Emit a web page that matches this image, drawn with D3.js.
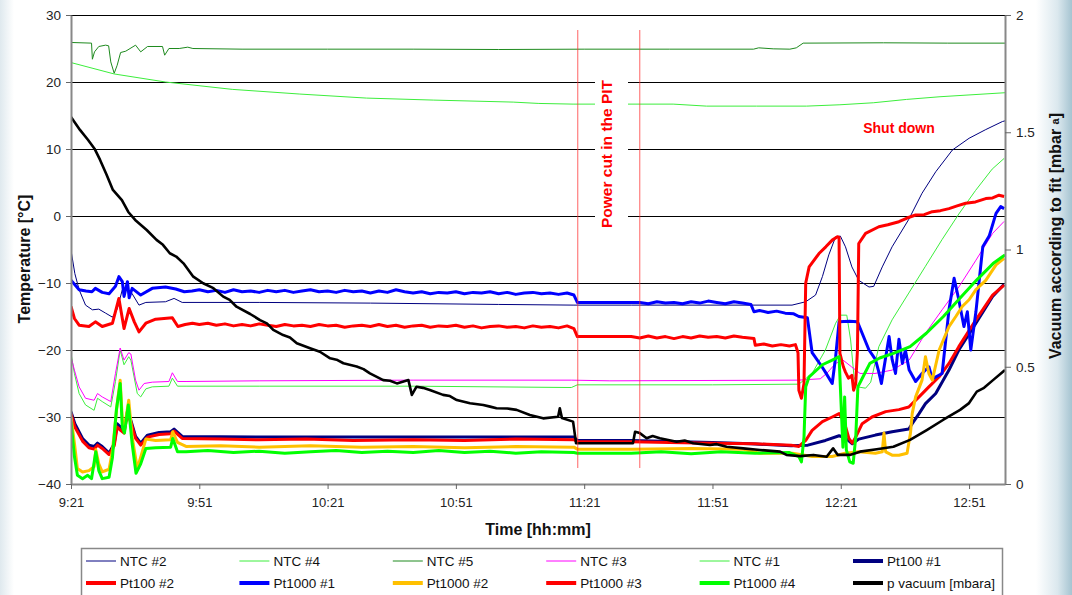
<!DOCTYPE html>
<html><head><meta charset="utf-8">
<script src="https://cdn.jsdelivr.net/npm/d3@7"></script>
<style>body{margin:0;background:#fff}svg{display:block;font-family:Arial,"Liberation Sans",sans-serif}</style>
</head><body><svg id="c" width="1072" height="595"></svg>
<script>
// ---- data (time in minutes after 9:21) ----
const xTickMinutes = [0,30,60,90,120,150,180,210];
const xTickLabels = ["9:21","9:51","10:21","10:51","11:21","11:51","12:21","12:51"];
const tempTicks = [-40,-30,-20,-10,0,10,20,30];
const vacTicks = [0,0.5,1,1.5,2];
const vacTickLabels = ["0","0.5","1","1.5","2"];
const powerCut = [118.5, 133];

const ntc2 = [[0,-5.1],[0.9,-8.6],[1.9,-11],[3.4,-13.3],[5,-14],[6.5,-13.9],[8.1,-14.5],[9.7,-15.1],[10.8,-13.9],[12,-11],[13.2,-10.8],[14.3,-11.6],[15.9,-13.3],[17.5,-12.9],[22.1,-12.8],[24.1,-12.3],[26,-12.9],[44,-12.9],[70,-13.0],[100,-13.2],[117.6,-13.3],[131,-13.3],[168.6,-13.3],[171.8,-12.8],[174.1,-11.8],[175.7,-9.05],[177.2,-5.8],[178.8,-3.1],[179.9,-3.0],[181.1,-4.6],[182.6,-7.6],[184.2,-9.6],[186.6,-10.6],[187.7,-10.5],[189.7,-7.6],[192,-4.6],[195.9,-0.5],[199,3.4],[202.2,6.6],[206.1,9.85],[210,11.6],[213.9,12.9],[217.8,14.1],[218.4,14.2]];
const ntc4 = [[0,-20.5],[0.8,-23.5],[1.9,-26.5],[3.4,-28.2],[5.4,-29],[6.2,-27.2],[7.3,-27.7],[9.3,-28.5],[10.4,-24.7],[11.5,-20],[12.4,-22.2],[13.5,-21],[14,-21.5],[15.5,-26.5],[16.3,-27],[17.5,-25.8],[19,-25.5],[22.9,-25.4],[23.7,-24.2],[24.9,-25.4],[26.9,-25.4],[44,-25.4],[80,-25.4],[117,-25.6],[118.4,-25.2],[150,-25.2],[170.2,-25.1],[173.3,-23.5],[176.4,-20],[178.8,-16],[179.9,-14.8],[181.4,-14.8],[182.3,-18.5],[183.1,-24],[183.9,-25.5],[185.8,-25.7],[187,-24.8],[188.9,-19.5],[192,-15.5],[195.9,-11.5],[199.8,-7.5],[203.7,-3.5],[207.6,0.3],[211.5,3.8],[215.4,7],[218.2,8.6]];
const ntc5 = [[0,25.9],[4.8,25.8],[5,23.4],[5.5,24.5],[6.5,25.3],[8.1,25.5],[8.8,25.4],[9.3,23],[10.1,21.3],[10.8,22.5],[11.6,24.4],[12.8,24.6],[15.1,25.5],[16.3,24.5],[17.9,25.3],[21.4,25.3],[21.9,24.0],[22.9,25.0],[25.3,25.0],[27.3,25.2],[28.5,25.0],[40,24.9],[60,24.9],[80,24.9],[100,24.85],[120,24.9],[140,24.9],[159.6,24.9],[160.8,25.1],[164.2,24.95],[168.1,24.9],[169.6,25.1],[171.2,25.8],[190,25.85],[205,25.8],[218.4,25.8]];
const ntc3 = [[0,-21],[0.8,-23],[1.9,-25.5],[3.4,-27.2],[5.4,-27.5],[6.2,-26.5],[7.3,-27],[9.3,-27.7],[10.4,-23.5],[11.5,-19.7],[12.4,-21.5],[13.5,-20.4],[14,-20.6],[15.1,-24.5],[15.9,-26],[17.1,-25],[19,-24.8],[22.9,-24.7],[23.7,-23.4],[24.9,-24.7],[26.9,-24.7],[44,-24.6],[80,-24.5],[117,-24.5],[126,-24.6],[170,-24.5],[175.2,-24.3],[176.7,-23.5],[178.8,-22],[180.5,-21.5],[182.5,-22.5],[184.5,-23.5],[188,-23.5],[192,-23],[196,-21.5],[199.8,-17.5],[203.7,-14],[207.6,-10.6],[211.6,-6.6],[215.5,-2.6],[218.2,-0.8]];
const ntc1 = [[0,22.9],[10.1,21.2],[22.1,20.0],[37.7,18.9],[53.5,18.2],[69.1,17.6],[84.7,17.3],[103.4,17.0],[109.4,16.8],[117.4,16.7],[130.2,16.7],[140.8,16.7],[148.6,16.4],[160.3,16.4],[172,16.4],[179.8,16.6],[187.6,16.9],[195.4,17.4],[203.2,17.8],[218.4,18.4]];
const pt100_1 = [[0,-29.2],[0.9,-31],[2.7,-33.2],[4.2,-34.2],[5.4,-34.4],[6.2,-33.9],[7.3,-34.4],[8.9,-35.4],[10.1,-34],[10.8,-31],[11.6,-31.5],[12.4,-32],[13.2,-29.2],[14,-30.5],[15.1,-32.9],[16.3,-33.9],[17.9,-32.7],[20.6,-32.3],[23.3,-32.2],[24.1,-31.8],[26,-32.9],[44,-33.0],[80,-33.0],[117.6,-33.0],[118.4,-33.5],[131,-33.5],[150,-33.8],[159,-34.0],[168.4,-34.3],[172.3,-34.2],[176.4,-33.5],[179.6,-32.8],[181.1,-33.1],[182.7,-34.0],[184.2,-33.3],[188.1,-32.7],[192,-32.2],[195.9,-31.8],[196.7,-31],[198.3,-29.5],[199.8,-28],[202.2,-26.5],[205.3,-23],[207.6,-20],[211.6,-16],[215.5,-12],[218.2,-10.2]];
const pt100_2 = [[0,-29.5],[0.9,-31.5],[2.7,-33.6],[4.2,-34.6],[5.4,-34.8],[6.2,-34.2],[7.3,-34.7],[8.9,-35.6],[10.1,-34.3],[10.8,-31.5],[11.6,-32],[12.4,-32.4],[13.2,-29.5],[14,-30.8],[15.1,-33.2],[16.3,-34.2],[17.9,-33],[20.6,-32.6],[23.3,-32.5],[24.1,-32.1],[26,-33.2],[35,-33.3],[44,-33.4],[55,-33.3],[66,-33.5],[80,-33.4],[92,-33.5],[104,-33.3],[117.6,-33.4],[118.4,-33.7],[131,-33.7],[140,-33.8],[150,-33.9],[160,-34.0],[168.4,-34.2],[170.2,-34.4],[171.8,-33.5],[173.3,-32],[175.7,-30.7],[178,-30],[179.6,-29.5],[180.7,-30.5],[181.9,-33.2],[182.7,-33.9],[183.5,-33],[185,-31],[187.3,-30],[190.5,-29.2],[193.6,-28.9],[195.9,-28.5],[198.3,-27],[200.6,-25.5],[203,-24],[205.3,-22],[207.6,-19.5],[211.6,-15.5],[215.5,-11.8],[218.2,-10.3]];
const pt1000_1 = [[0,-9.6],[1.9,-11],[3.5,-11.2],[4.9,-11.3],[5.7,-10.8],[7.3,-11.4],[8.9,-11.6],[10.4,-10.5],[11.2,-9.05],[12,-9.8],[12.4,-12.0],[13.2,-9.8],[13.6,-12.2],[14.3,-10.8],[16.3,-11.8],[19,-10.8],[22.1,-10.6],[24.5,-10.9],[26.5,-11.3],[28.3,-11.2],[30,-11.0],[32,-11.3],[34,-11.1],[36,-11.4],[38,-11.0],[40,-11.3],[42,-11.2],[44,-11.4],[46,-11.1],[48,-11.3],[50,-11.1],[52,-11.4],[54,-11.2],[56,-11.0],[58,-11.3],[60,-11.2],[62,-11.4],[64,-11.1],[66,-11.3],[68,-11.2],[70,-11.5],[72,-11.2],[74,-11.4],[76,-11.0],[78,-11.3],[80,-11.5],[82,-11.3],[84,-11.6],[86,-11.4],[88,-11.5],[90,-11.3],[92,-11.6],[94,-11.4],[96,-11.5],[98,-11.3],[100,-11.6],[102,-11.4],[104,-11.7],[106,-11.5],[108,-11.4],[110,-11.6],[112,-11.5],[114,-11.7],[116,-11.5],[117.6,-11.8],[118.4,-12.9],[131,-12.9],[133,-12.9],[135,-13.1],[137,-12.8],[139,-13.0],[141,-12.9],[143,-13.1],[145,-12.8],[147,-13.0],[149,-12.7],[151,-12.9],[153,-13.1],[155,-12.8],[157,-13.0],[159,-13.2],[159.7,-14.3],[161,-14.1],[163,-14.4],[165,-14.2],[167,-14.5],[169,-14.6],[170.2,-15.0],[172.2,-15.2],[173.3,-20.4],[175.6,-22.5],[176.4,-23.3],[178,-25],[178.8,-21],[179.6,-15.8],[182,-15.7],[183.9,-15.8],[185,-17.5],[186.6,-20],[188.1,-21.4],[188.9,-23.3],[189.5,-25],[191.3,-18],[192,-21.4],[192.8,-23.5],[193.6,-18.4],[194.4,-22],[195.1,-20],[196,-23],[197.5,-24.7],[199,-23.5],[200.6,-22.5],[201.4,-24.3],[203.7,-23.5],[205.3,-14],[206.5,-9.3],[207.5,-12.2],[208.8,-16.5],[209.6,-14.3],[210.4,-20],[211.6,-14.3],[213.2,-4.6],[214.7,-3.0],[216.3,0.4],[217.4,1.4],[218.2,1.1]];
const pt1000_2 = [[0,-30],[0.8,-33.9],[1.5,-37.7],[2.7,-38.2],[4.2,-38],[5.4,-37.4],[5.8,-34.9],[6.5,-37],[7.3,-38.2],[8.9,-37.8],[9.7,-35],[10.8,-28],[11.5,-24.5],[12,-30.4],[12.6,-31.2],[13.5,-27.5],[14.3,-33],[15.5,-37.7],[16.3,-36],[17.5,-33.3],[19.8,-33.5],[23.3,-33.4],[23.8,-32.2],[24.9,-33.8],[26.9,-34.4],[35,-34.3],[44,-34.5],[56,-34.3],[68,-34.5],[80,-34.4],[92,-34.6],[104,-34.4],[117.6,-34.5],[118.4,-34.8],[131,-34.8],[145,-34.7],[157,-34.8],[161,-35.4],[168.7,-35.4],[173.3,-35.9],[178,-35.9],[181,-35.4],[184.2,-35.2],[188.1,-35.4],[189.7,-35.2],[190.1,-32.4],[190.5,-35.2],[192,-35.7],[193.6,-35.7],[195.5,-35.4],[196.3,-32.4],[196.7,-29.5],[197.5,-27],[199,-24.5],[199.8,-21],[200.6,-23.5],[201.4,-24.5],[203,-20],[205.3,-16.5],[206.9,-15],[208.4,-13.5],[210,-12.5],[211.6,-11],[213.9,-9.6],[216.3,-7.3],[218.2,-6.3]];
const pt1000_3 = [[0,-13.5],[0.8,-15.3],[1.9,-16.3],[4.2,-16.5],[5.7,-15.8],[7.3,-16.5],[9.7,-16],[11.2,-12.3],[12.4,-16.8],[13.6,-13.8],[14.8,-15.8],[15.9,-17.3],[17.5,-16],[19.8,-15.4],[23.7,-15.2],[25,-16.5],[26.7,-16.2],[28.4,-16],[30,-16.2],[32,-16.0],[34,-16.3],[36,-16.1],[38,-16.4],[40,-16.2],[42,-16.4],[44,-16.1],[46,-16.3],[48,-16.5],[50,-16.2],[52,-16.4],[54,-16.3],[56,-16.5],[58,-16.2],[60,-16.4],[62,-16.3],[64,-16.6],[66,-16.4],[68,-16.3],[70,-16.5],[72,-16.2],[74,-16.5],[76,-16.3],[78,-16.6],[80,-16.4],[82,-16.3],[84,-16.6],[86,-16.4],[88,-16.5],[90,-16.3],[92,-16.6],[94,-16.4],[96,-16.7],[98,-16.5],[100,-16.4],[102,-16.6],[104,-16.5],[106,-16.7],[108,-16.4],[110,-16.6],[112,-16.5],[114,-16.7],[116,-16.4],[117.6,-16.8],[118.4,-18.0],[131,-18.0],[133,-18.2],[135,-17.9],[137,-18.2],[139,-18.0],[141,-18.3],[143,-18.0],[145,-18.2],[147,-17.9],[149,-18.1],[151,-18.0],[153,-18.2],[155,-17.9],[157,-18.1],[159.7,-18.3],[160,-19.3],[162,-19.1],[164,-19.4],[166,-19.2],[168,-19.4],[169.4,-19.2],[170,-20.4],[170.2,-26],[170.8,-27.2],[171.4,-25],[171.8,-10.0],[172.6,-7.6],[174.9,-5.6],[176.5,-4.6],[178,-3.6],[179.2,-3.1],[179.6,-3.2],[179.8,-20.5],[180.6,-22.5],[181.1,-23.3],[181.8,-24.2],[182.6,-23.8],[183,-26],[183.5,-25],[183.9,-20],[184.2,-4.1],[185.8,-2.6],[188.9,-1.6],[191,-1.3],[193.6,-0.85],[195.5,-0.3],[197.5,0.15],[199.5,0.2],[201.4,0.64],[203.3,0.8],[205.3,1.1],[207.2,1.5],[209.2,1.9],[211.5,2.1],[213.9,2.6],[215.5,2.7],[217,3.1],[218.2,2.9]];
const pt1000_4 = [[0,-30.7],[0.8,-35.9],[1.5,-38.7],[2.7,-39.2],[3.9,-38.7],[4.8,-39.2],[5.8,-35.2],[6.5,-38],[7.3,-39.2],[8.9,-39],[9.7,-36],[10.6,-29],[11.5,-25],[12,-31.5],[12.5,-32.4],[13.4,-28.2],[14.3,-34],[15.2,-38.4],[16.3,-37],[17.5,-34.7],[19.8,-34.6],[23.3,-34.5],[23.8,-33.2],[24.9,-35.2],[26.9,-35.2],[32,-35.0],[38,-35.3],[44,-35.1],[50,-35.4],[56,-35.2],[62,-35.0],[68,-35.3],[74,-35.1],[80,-35.3],[86,-35.0],[92,-35.3],[98,-35.1],[104,-35.4],[110,-35.2],[117.6,-35.3],[118.4,-35.4],[131,-35.4],[138,-35.2],[145,-35.5],[152,-35.2],[160,-35.4],[168,-35.3],[170.2,-35.9],[170.8,-36.7],[171.4,-33],[171.8,-25.5],[172.6,-24],[175.7,-22.2],[178,-21.5],[179.6,-21],[179.9,-25.5],[180.5,-34.5],[180.9,-27],[181.3,-34.9],[182.1,-36.7],[182.9,-36.9],[183.5,-33],[184,-25.5],[185.2,-24],[186.8,-22],[189.1,-21.2],[192.3,-20.5],[196.2,-19.5],[200,-17.5],[204,-15],[207.8,-12.3],[211.7,-9.6],[215.6,-7.1],[218.4,-5.8]];
const pVacuum = [[0,1.565],[2.1,1.51],[4.0,1.467],[5.5,1.43],[6.8,1.382],[8.3,1.32],[9.8,1.254],[11.9,1.211],[13.4,1.16],[15.0,1.126],[17.7,1.083],[20.0,1.041],[21.5,1.02],[23.1,0.984],[24.6,0.97],[26.3,0.941],[28.6,0.884],[30.9,0.856],[33.3,0.835],[35.6,0.799],[37.1,0.785],[38.7,0.756],[41.9,0.725],[44.2,0.699],[45.8,0.685],[47.3,0.657],[49.6,0.635],[51.2,0.625],[52.8,0.6],[55.9,0.579],[58.2,0.564],[60.6,0.536],[62.1,0.53],[63.7,0.515],[66.8,0.501],[68.4,0.49],[69.9,0.472],[73.0,0.443],[74.6,0.44],[76.2,0.429],[78.9,0.443],[79.7,0.38],[80.8,0.415],[82.3,0.41],[83.9,0.401],[87.0,0.38],[88.6,0.375],[90.2,0.358],[93.3,0.344],[96.4,0.337],[98.0,0.33],[99.5,0.323],[102.0,0.322],[104.2,0.316],[107.3,0.294],[110.4,0.28],[113.9,0.287],[114.3,0.323],[114.8,0.281],[117.4,0.266],[118.1,0.174],[131.4,0.174],[131.9,0.223],[133.0,0.217],[134.6,0.195],[136.0,0.205],[137.7,0.195],[141.6,0.18],[143.5,0.185],[145.5,0.174],[149.4,0.166],[151.0,0.17],[153.3,0.159],[157.2,0.152],[161.1,0.145],[165.8,0.138],[167.3,0.124],[170.5,0.119],[173.6,0.124],[176.7,0.116],[178.2,0.152],[179.3,0.124],[182.1,0.124],[184.5,0.138],[188.4,0.148],[192.3,0.159],[196.2,0.188],[200.1,0.23],[203.9,0.273],[207.9,0.316],[210.0,0.345],[211.8,0.394],[213.5,0.41],[215.6,0.443],[218.4,0.486]];

const seriesList = [
  {name:"NTC #2", data:ntc2, color:"#000080", w:1},
  {name:"NTC #4", data:ntc4, color:"#3cee3c", w:1},
  {name:"NTC #5", data:ntc5, color:"#1e8a1e", w:1},
  {name:"NTC #3", data:ntc3, color:"#ff00ff", w:1},
  {name:"NTC #1", data:ntc1, color:"#3cee3c", w:1},
  {name:"Pt100 #1", data:pt100_1, color:"#000080", w:3},
  {name:"Pt100 #2", data:pt100_2, color:"#ff0000", w:3},
  {name:"Pt1000 #1", data:pt1000_1, color:"#0000ff", w:3},
  {name:"Pt1000 #2", data:pt1000_2, color:"#ffc000", w:3},
  {name:"Pt1000 #3", data:pt1000_3, color:"#ff0000", w:3},
  {name:"Pt1000 #4", data:pt1000_4, color:"#00ff00", w:3},
  {name:"p vacuum [mbara]", data:pVacuum, color:"#000000", w:2.6, right:true}
];

// ---- layout ----
const L=71, R=1005, T=15, B=484;
const svg = d3.select("#c");
const defs = svg.append("defs");
const gr = defs.append("linearGradient").attr("id","gR").attr("x1","0").attr("x2","1");
gr.append("stop").attr("offset","0").attr("stop-color","#ffffff");
gr.append("stop").attr("offset","0.6").attr("stop-color","#dbe8ee");
gr.append("stop").attr("offset","1").attr("stop-color","#a6c4d1");
const gl = defs.append("linearGradient").attr("id","gL").attr("x1","0").attr("x2","1");
gl.append("stop").attr("offset","0").attr("stop-color","#dfe9ee");
gl.append("stop").attr("offset","1").attr("stop-color","#ffffff");
defs.append("clipPath").attr("id","plot").append("rect").attr("x",L).attr("y",T-2).attr("width",R-L).attr("height",B-T+4);

svg.append("rect").attr("width",1072).attr("height",595).attr("fill","#fff");
svg.append("rect").attr("x",0).attr("y",0).attr("width",14).attr("height",595).attr("fill","url(#gL)");
svg.append("rect").attr("x",1036).attr("y",0).attr("width",36).attr("height",595).attr("fill","url(#gR)");

const x = d3.scaleLinear().domain([0,218.4]).range([L,R]);
const yT = d3.scaleLinear().domain([-40,30]).range([B,T]);
const yV = d3.scaleLinear().domain([0,2]).range([B,T]);

// gridlines
svg.append("g").selectAll("line").data(tempTicks.filter(d=>d>-40)).join("line")
  .attr("x1",L).attr("x2",R).attr("y1",d=>Math.round(yT(d))+0.5).attr("y2",d=>Math.round(yT(d))+0.5)
  .attr("stroke","#000").attr("stroke-width",1);

// series
const gS = svg.append("g").attr("clip-path","url(#plot)");
seriesList.forEach(s=>{
  const yy = s.right? yV : yT;
  const line = d3.line().x(d=>x(d[0])).y(d=>yy(d[1]));
  gS.append("path").attr("d",line(s.data)).attr("fill","none")
    .attr("stroke",s.color).attr("stroke-width",s.w).attr("stroke-linejoin","round");
});

// power cut lines
svg.append("g").selectAll("line").data(powerCut).join("line")
  .attr("x1",d=>x(d)).attr("x2",d=>x(d)).attr("y1",30).attr("y2",468)
  .attr("stroke","#ff3030").attr("stroke-opacity",0.75).attr("stroke-width",1);
svg.append("rect").attr("x",595).attr("y",76).attr("width",33).attr("height",156).attr("fill","#fff");
svg.append("text").attr("transform","translate(612,154) rotate(-90)").attr("text-anchor","middle")
  .attr("font-size",15.5).attr("font-weight","bold").attr("fill","#ff0000").text("Power cut in the PIT");
svg.append("text").attr("x",899).attr("y",133).attr("text-anchor","middle")
  .attr("font-size",14).attr("font-weight","bold").attr("fill","#ff0000").text("Shut down");

// axes
const axStyle = g=>{ g.selectAll(".domain").attr("stroke","#888").attr("stroke-width",2);
  g.selectAll(".tick line").attr("stroke","#666");
  g.selectAll("text").attr("fill","#222").attr("font-size",13.5).attr("font-family","Arial, 'Liberation Sans', sans-serif"); };
svg.append("g").attr("transform",`translate(${L},0)`)
  .call(d3.axisLeft(yT).tickValues(tempTicks).tickSize(5).tickSizeOuter(0).tickPadding(5)).call(axStyle);
svg.append("g").attr("transform",`translate(${R},0)`)
  .call(d3.axisRight(yV).tickValues(vacTicks).tickFormat((d,i)=>vacTickLabels[i]).tickSize(6).tickSizeOuter(0).tickPadding(5)).call(axStyle);
const xa = svg.append("g").attr("transform",`translate(0,${B})`)
  .call(d3.axisBottom(x).tickValues(xTickMinutes).tickFormat((d,i)=>xTickLabels[i]).tickSize(5).tickSizeOuter(0).tickPadding(9)).call(axStyle);
xa.selectAll("text").attr("font-size",13);

// axis titles
svg.append("text").attr("transform","translate(30,259) rotate(-90)").attr("text-anchor","middle")
  .attr("font-size",16).attr("font-weight","bold").attr("fill","#111").text("Temperature [°C]");
const rt = svg.append("text").attr("transform","translate(1061,236) rotate(-90)").attr("text-anchor","middle")
  .attr("font-size",16).attr("font-weight","bold").attr("fill","#111");
rt.append("tspan").text("Vacuum according to fit [mbar ");
rt.append("tspan").attr("font-size",11).attr("dy",-2).text("a");
rt.append("tspan").attr("dy",2).text("]");
svg.append("text").attr("x",538).attr("y",535).attr("text-anchor","middle")
  .attr("font-size",16).attr("font-weight","bold").attr("fill","#111").text("Time [hh:mm]");

// legend
svg.append("rect").attr("x",81.5).attr("y",548.5).attr("width",921).attr("height",60)
  .attr("fill","#fff").attr("stroke","#888").attr("stroke-width",1.5);
const lg = svg.append("g").selectAll("g").data(seriesList).join("g")
  .attr("transform",(d,i)=>`translate(${86+(i%6)*153.4},${i<6?561:583})`);
lg.append("line").attr("x1",0).attr("x2",30).attr("y1",0).attr("y2",0)
  .attr("stroke",d=>d.color).attr("stroke-width",d=>d.w>1?4:1);
lg.append("text").attr("x",34).attr("y",5).attr("font-size",13.5).attr("fill","#111").text(d=>d.name);
</script></body></html>
